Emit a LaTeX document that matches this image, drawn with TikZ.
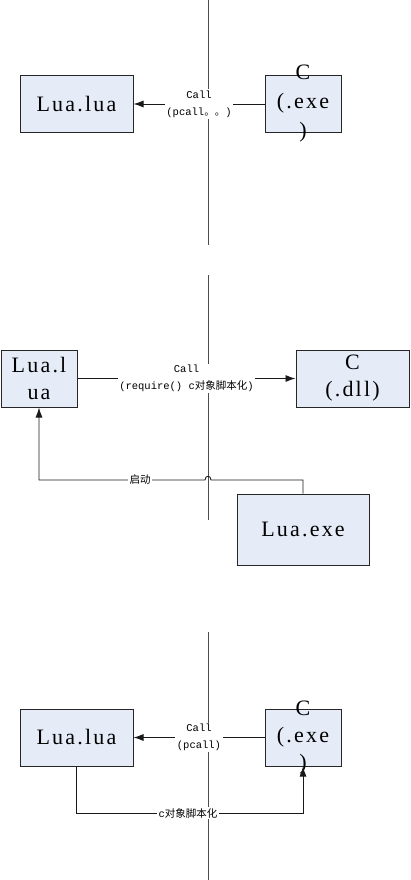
\documentclass[tikz,border=0pt]{standalone}
\usepackage{fontspec}
\setmainfont{Liberation Mono}
\newfontfamily\bigserif[LetterSpace=10]{Liberation Serif}
\newfontfamily\cjk{Noto Sans CJK SC}
\usetikzlibrary{arrows.meta}
\definecolor{boxfill}{HTML}{E6ECF7}
\begin{document}
\begin{tikzpicture}[x=1pt,y=-1pt,
  box/.style={draw=black!85, fill=boxfill, line width=1pt, inner sep=0pt},
  big/.style={font=\bigserif\fontsize{22}{29}\selectfont, align=center, inner sep=0pt},
  bigb/.style={font=\bigserif\fontsize{22}{27}\selectfont, align=center, inner sep=0pt},
  lbl/.style={font=\fontsize{10.5}{17}\selectfont, align=center, fill=white, inner sep=1.5pt},
  conn/.style={draw=black!90, line width=0.9pt},
  arr/.style={conn, -{Latex[length=10pt,width=7pt]}},
  divider/.style={draw=black!70, line width=1pt}]
\useasboundingbox (0,0) rectangle (410,880);
% dividers
\coordinate (d1a) at (208,0);   \coordinate (d1b) at (208,245);
\coordinate (d2a) at (208,275); \coordinate (d2b) at (208,520);
\coordinate (d3a) at (208,632); \coordinate (d3b) at (208,880);
\draw[divider] (d1a) -- (d1b);
\draw[divider] (d2a) -- (d2b);
\draw[divider] (d3a) -- (d3b);
% section 1
\node[box, minimum width=113pt, minimum height=56pt] (a1) at (76.5,104) {};
\node[big] (a1t) at (a1) {Lua.lua};
\node[box, minimum width=76pt, minimum height=56pt] (c1) at (303,104) {};
\node[big] (c1t) at (c1) {C\\(.exe\\)};
\draw[arr] (c1.west) -- node[lbl] (l1) {Call\\(pcall{\cjk 。。})} (a1.east);
% section 2
\node[box, minimum width=76pt, minimum height=57pt] (a2) at (39,378.5) {};
\node[bigb] (a2t) at (a2) {Lua.l\\ua};
\node[box, minimum width=113pt, minimum height=57pt] (c2) at (352.5,378.5) {};
\node[bigb] (c2t) at (c2) {C\\(.dll)};
\draw[arr] (a2.east) -- node[lbl] (l2) {Call\\(require() c{\cjk 对象脚本化})} (c2.west);
\node[box, minimum width=132pt, minimum height=71pt] (e2) at (303,529.5) {};
\node[big] (e2t) at (e2) {Lua.exe};
\coordinate (k1) at (303,480);
\coordinate (h1) at (211,480);
\coordinate (h2) at (205,480);
\coordinate (k2) at (39,480);
\draw[arr] (e2.north) -- (k1) -- (h1) .. controls (211,475) and (205,475) .. (h2) -- (k2) -- (a2.south);
\node[lbl, font=\fontsize{10.5}{17}\cjk] (l3) at (140,480) {启动};
% section 3
\node[box, minimum width=113pt, minimum height=57pt] (a3) at (76.5,737.5) {};
\node[big] (a3t) at (a3) {Lua.lua};
\node[box, minimum width=76pt, minimum height=57pt] (c3) at (303,737.5) {};
\node[bigb] (c3t) at (c3) {C\\(.exe\\)};
\draw[arr] (c3.west) -- node[lbl] (l4) {Call\\(pcall)} (a3.east);
\coordinate (m1) at (76.5,813);
\coordinate (m2) at (303,813);
\draw[arr] (a3.south) -- (m1) -- (m2) -- (c3.south);
\node[lbl] (l5) at (188,813) {c{\cjk 对象脚本化}};
\end{tikzpicture}
\end{document}
